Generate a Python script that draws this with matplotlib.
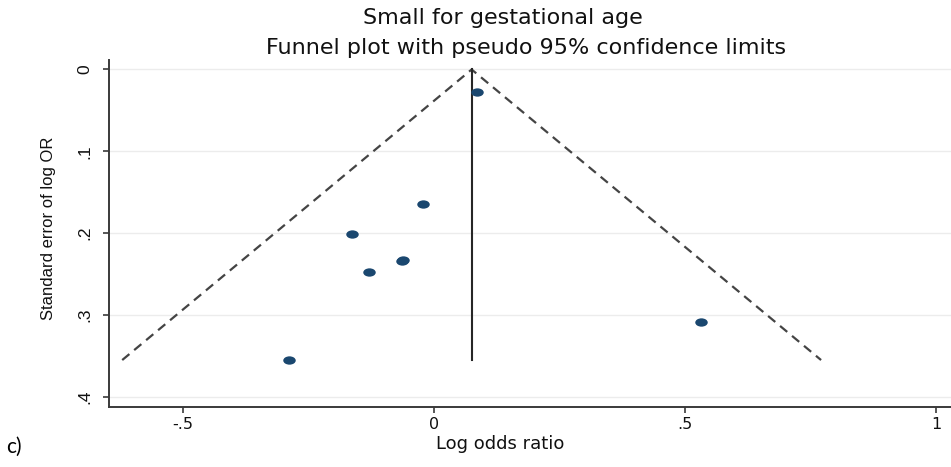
import numpy as np
import matplotlib
matplotlib.use("Agg")
import matplotlib.pyplot as plt
from matplotlib.path import Path
from matplotlib.transforms import Affine2D

# Study estimates: log odds ratio and its standard error
log_or = [0.086, -0.0225, -0.164, -0.0615, -0.0645, -0.129, -0.289, 0.531]
se_log_or = [0.0275, 0.164, 0.2015, 0.2325, 0.234, 0.248, 0.355, 0.308]

# Pooled (fixed-effect) estimate that centres the funnel
pooled = 0.0745

x_ticks = [-0.5, 0, 0.5, 1]
x_tick_labels = ["-.5", "0", ".5", "1"]
y_ticks = [0, 0.1, 0.2, 0.3, 0.4]
y_tick_labels = ["0", ".1", ".2", ".3", ".4"]

title_main = "Small for gestational age"
title_sub = "Funnel plot with pseudo 95% confidence limits"
x_label = "Log odds ratio"
y_label = "Standard error of log OR"
panel_tag = "c)"

W, H = 951, 467
fig = plt.figure(figsize=(W / 100, H / 100), dpi=100)
fig.patch.set_facecolor("white")

left_px, right_px, top_px, bottom_px = 109.3, 951.0, 60.0, 406.7
ax = fig.add_axes([left_px / W, 1 - bottom_px / H,
                   (right_px - left_px) / W, (bottom_px - top_px) / H])
ax.set_xlim(-0.647, 1.029)
ax.set_ylim(0.412, -0.0116)

axis_col = "#3a3a3a"
for side in ("top", "right"):
    ax.spines[side].set_visible(False)
for side in ("left", "bottom"):
    ax.spines[side].set_color(axis_col)
    ax.spines[side].set_linewidth(1.4)

# light horizontal grid at every y tick
for yv in y_ticks:
    ax.axhline(yv, color="#ececec", lw=1.0, zorder=0)

# pseudo 95% confidence limits
se_max = max(se_log_or)
lo = pooled - 1.96 * se_max
hi = pooled + 1.96 * se_max
ax.plot([lo, pooled, hi], [se_max, 0, se_max], color="#444444", lw=1.6,
        dashes=(4.2, 2.8), zorder=2)
ax.plot([pooled, pooled], [0, se_max], color="#262626", lw=1.5, zorder=2)

# elliptical study markers
ellipse = Affine2D().scale(1.5, 1.0).transform_path(Path.unit_circle())
ax.plot(log_or, se_log_or, linestyle="none", marker=ellipse, markersize=9,
        color="#1a476f", markeredgewidth=0, zorder=3)

narrow = ["Liberation Sans Narrow", "Liberation Sans", "DejaVu Sans"]
ax.set_xticks(x_ticks)
ax.set_xticklabels(x_tick_labels, fontsize=11.5, family="DejaVu Sans")
ax.set_yticks(y_ticks)
ax.set_yticklabels(y_tick_labels, fontsize=12.5, rotation=90, va="center",
                   family=narrow)
ax.tick_params(axis="both", direction="out", length=4.5, width=1.2,
               color=axis_col, labelcolor="#111111")
ax.tick_params(axis="x", pad=3)
ax.tick_params(axis="y", pad=8)

ax.set_xlabel(x_label, fontsize=13, family="DejaVu Sans", color="#111111",
              va="top")
ax.xaxis.set_label_coords((500 - left_px) / (right_px - left_px),
                          -(435 - bottom_px) / (bottom_px - top_px))
ax.set_ylabel(y_label, fontsize=12, color="#111111", family=narrow)
ax.yaxis.set_label_coords(-(left_px - 56) / (right_px - left_px), 0.515)

fig.text(503 / W, 1 - 18 / H, title_main, ha="center", va="center",
         fontsize=16, family="DejaVu Sans", color="#111111")
fig.text(526 / W, 1 - 48 / H, title_sub, ha="center", va="center",
         fontsize=16, family="DejaVu Sans", color="#111111")

fig.text(6 / W, 1 - 447 / H, panel_tag, ha="left", va="center",
         fontsize=15, family=["Lato", "DejaVu Sans"], color="#000000")

fig.savefig("out.png", dpi=100, facecolor="white")
